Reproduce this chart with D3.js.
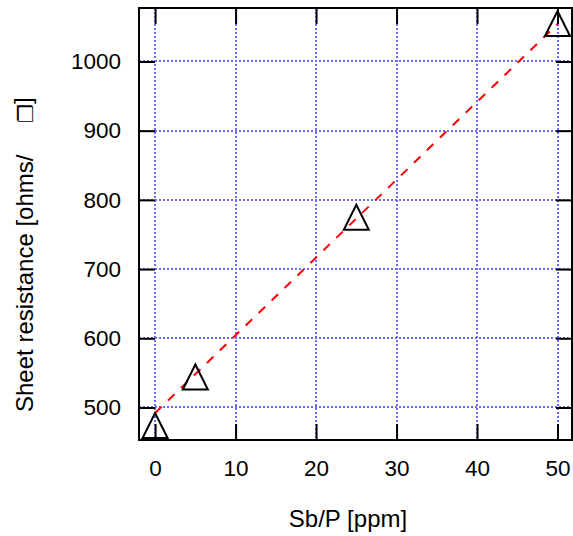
<!DOCTYPE html>
<html>
<head>
<meta charset="utf-8">
<script src="https://cdn.jsdelivr.net/npm/d3@7"></script>
<style>
  html, body { margin: 0; padding: 0; background: #fff; }
  svg { display: block; font-family: "Liberation Sans", Arial, sans-serif; }
</style>
</head>
<body>
<svg id="chart" width="573" height="536"></svg>
<script>
// ---- data ----
const sbP = [0, 5, 25, 50];                 // Sb/P [ppm]
const sheetRes = [474, 544, 775, 1055];     // measured sheet resistance
const fitX = [0, 50];                        // fitted line x
const fitY = [492, 1054];                    // fitted line y
const xTicks = [0, 10, 20, 30, 40, 50];
const yTicks = [500, 600, 700, 800, 900, 1000];
const xLabel = "Sb/P [ppm]";
const yLabelMain = "Sheet resistance [ohms/";
const yLabelSym = "\u2750";
const yLabelEnd = "]";

// ---- layout ----
const L = 139, R = 572, T = 8, B = 440;
const svg = d3.select("#chart");
const x = d3.scaleLinear().domain([-2, 51.8]).range([L, R]);
const y = d3.scaleLinear().domain([453, 1077.3]).range([B, T]);

// grid (crisp dotted)
const gridColor = "#6a6aff";
const grid = svg.append("g");
grid.selectAll("line.gx").data(xTicks).join("line")
  .attr("x1", d => Math.round(x(d))).attr("x2", d => Math.round(x(d)))
  .attr("y1", T).attr("y2", B)
  .attr("stroke", gridColor).attr("stroke-width", 2).attr("stroke-dasharray", "2,2");
grid.selectAll("line.gy").data(yTicks).join("line")
  .attr("y1", d => Math.round(y(d))).attr("y2", d => Math.round(y(d)))
  .attr("x1", L).attr("x2", R)
  .attr("stroke", gridColor).attr("stroke-width", 2).attr("stroke-dasharray", "2,2");

// fit line
svg.append("path")
  .datum(fitX.map((d, i) => [d, fitY[i]]))
  .attr("d", d3.line().x(d => x(d[0])).y(d => y(d[1])))
  .attr("fill", "none").attr("stroke", "#ff0000").attr("stroke-width", 2)
  .attr("stroke-dasharray", "9,9");

// axes (inward ticks)
const tickLen = 16;
const fmt = d3.format("d");
const axB = svg.append("g").attr("transform", `translate(0,${B})`)
  .call(d3.axisBottom(x).tickValues(xTicks).tickFormat(fmt).tickSize(-tickLen).tickPadding(20));
const axT = svg.append("g").attr("transform", `translate(0,${T})`)
  .call(d3.axisTop(x).tickValues(xTicks).tickSize(-tickLen).tickFormat(""));
const axL = svg.append("g").attr("transform", `translate(${L},0)`)
  .call(d3.axisLeft(y).tickValues(yTicks).tickFormat(fmt).tickSize(-tickLen).tickPadding(18));
const axR = svg.append("g").attr("transform", `translate(${R},0)`)
  .call(d3.axisRight(y).tickValues(yTicks).tickSize(-tickLen).tickFormat(""));
[axB, axT, axL, axR].forEach(a => {
  a.select(".domain").remove();
  a.selectAll(".tick line").attr("stroke", "#000").attr("stroke-width", 2);
  a.selectAll(".tick text").attr("font-size", 22.5).attr("fill", "#000")
    .attr("font-family", "Liberation Sans, Arial, sans-serif");
});

// frame
svg.append("rect").attr("x", L).attr("y", T).attr("width", R - L).attr("height", B - T)
  .attr("fill", "none").attr("stroke", "#000").attr("stroke-width", 2);

// markers (open triangles)
const tw = 25, th = 25;
svg.append("g").selectAll("path").data(sbP).join("path")
  .attr("transform", (d, i) => `translate(${x(d)},${y(sheetRes[i])})`)
  .attr("d", `M0,${-th/2}L${tw/2},${th/2}L${-tw/2},${th/2}Z`)
  .attr("fill", "none").attr("stroke", "#000").attr("stroke-width", 2);

// axis labels
svg.append("text").attr("x", 348).attr("y", 527).attr("text-anchor", "middle")
  .attr("font-size", 24).text(xLabel);
const yl = svg.append("text").attr("transform", "translate(33,412) rotate(-90)")
  .attr("text-anchor", "start").attr("font-size", 24);
yl.append("tspan").attr("x", 0).text(yLabelMain);
yl.append("tspan").attr("x", 289).attr("font-family", "DejaVu Sans").attr("font-size", 21).text(yLabelSym);
yl.append("tspan").attr("x", 308).attr("dy", -2).text(yLabelEnd);
</script>
</body>
</html>
